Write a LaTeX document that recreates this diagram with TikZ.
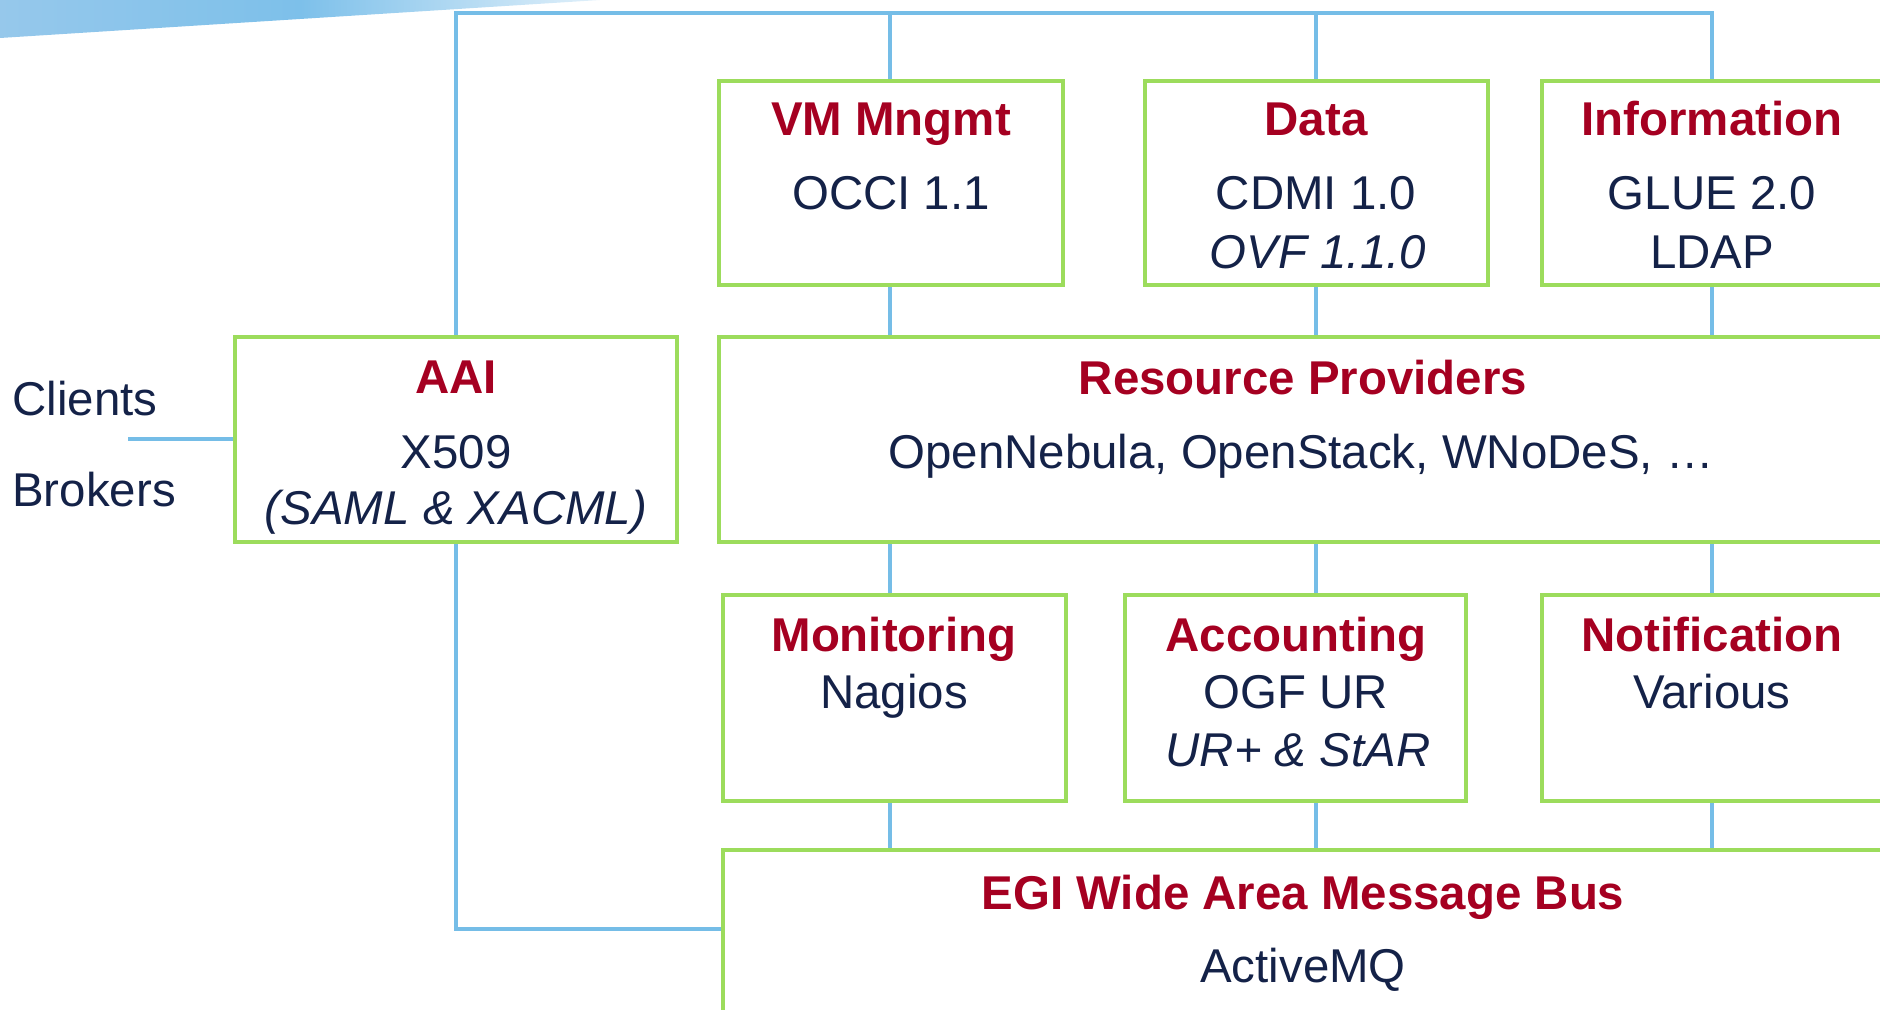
\documentclass[tikz,border=0pt]{standalone}
\usepackage{fontspec}
\setmainfont{Liberation Sans}
\usetikzlibrary{fit}
\definecolor{titlered}{RGB}{165,0,33}
\definecolor{bodynavy}{RGB}{20,34,72}
\definecolor{linkblue}{RGB}{117,189,231}
\definecolor{boxgreen}{RGB}{156,220,92}
\definecolor{swooshA}{RGB}{150,200,235}
\definecolor{swooshB}{RGB}{125,192,234}
\definecolor{swooshC}{RGB}{225,240,250}
\pgfdeclarelayer{background}
\pgfsetlayers{background,main}
\begin{document}
\begin{tikzpicture}[x=0.02cm,y=-0.02cm,
  box/.style={draw=boxgreen, line width=2.6pt, inner sep=0pt, outer sep=0pt, rectangle},
  link/.style={draw=linkblue, line width=2.8pt, line join=miter},
  ttl/.style={text=titlered, font=\fontsize{27}{32}\selectfont\bfseries, anchor=base, inner sep=0pt},
  body/.style={text=bodynavy, font=\fontsize{27}{32}\selectfont, anchor=base, inner sep=0pt},
  ital/.style={text=bodynavy, font=\fontsize{27}{32}\selectfont\itshape, anchor=base, inner sep=0pt}]
\useasboundingbox (0,0) rectangle (1880,1010);
\clip (0,0) rectangle (1880,1010);

% decorative swoosh
\shade[left color=swooshA, right color=swooshC, middle color=swooshB] (0,0) -- (600,0) -- (0,38) -- cycle;

% boxes
\node[box, fit={(235,337) (677,542)}] (aai) {};
\node[box, fit={(719,81) (1063,285)}] (vm) {};
\node[box, fit={(1145,81) (1488,285)}] (data) {};
\node[box, fit={(1542,81) (1900,285)}] (info) {};
\node[box, fit={(719,337) (1900,542)}] (rp) {};
\node[box, fit={(723,595) (1066,801)}] (mon) {};
\node[box, fit={(1125,595) (1466,801)}] (acc) {};
\node[box, fit={(1542,595) (1900,801)}] (notif) {};
\node[box, fit={(723,850) (1900,1040)}] (bus) {};

% coordinates
\coordinate (topline) at (456,13);
\coordinate (cl) at (128,439);
\coordinate (busin) at (723,929);
\coordinate (xvm) at (890,0);
\coordinate (xdata) at (1316,0);
\coordinate (xinfo) at (1712,0);

% connectors
\begin{pgfonlayer}{background}
\draw[link] (aai.north) |- (xinfo |- topline) -- (xinfo |- info.north);
\draw[link] (xvm |- topline) -- (xvm |- vm.north);
\draw[link] (xdata |- topline) -- (xdata |- data.north);
\draw[link] (xvm |- vm.south) -- (xvm |- rp.north);
\draw[link] (xdata |- data.south) -- (xdata |- rp.north);
\draw[link] (xinfo |- info.south) -- (xinfo |- rp.north);
\draw[link] (xvm |- rp.south) -- (xvm |- mon.north);
\draw[link] (xdata |- rp.south) -- (xdata |- acc.north);
\draw[link] (xinfo |- rp.south) -- (xinfo |- notif.north);
\draw[link] (xvm |- mon.south) -- (xvm |- bus.north);
\draw[link] (xdata |- acc.south) -- (xdata |- bus.north);
\draw[link] (xinfo |- notif.south) -- (xinfo |- bus.north);
\draw[link] (aai.south) |- (busin);
\draw[link] (cl) -- (aai.west |- cl);
\end{pgfonlayer}

% texts
\node[body, anchor=base west] (clients) at (12,415) {Clients};
\node[body, anchor=base west] (brokers) at (12,506) {Brokers};

\node[ttl] (aaiT) at (456,393) {AAI};
\node[body] (aaiB) at (456,468) {X509};
\node[ital] (aaiC) at (456,524) {(SAML \& XACML)};

\node[ttl] (vmT) at (891,136) {VM Mngmt};
\node[body] (vmB) at (891,210) {OCCI 1.1};

\node[ttl] (dataT) at (1316,136) {Data};
\node[body] (dataB) at (1316,210) {CDMI 1.0};
\node[ital] (dataC) at (1318,269) {OVF 1.1.0};

\node[ttl] (infoT) at (1712,136) {Information};
\node[body] (infoB) at (1712,210) {GLUE 2.0};
\node[body] (infoC) at (1712,269) {LDAP};

\node[ttl] (rpT) at (1303,394) {Resource Providers};
\node[body] (rpB) at (1301,468) {OpenNebula, OpenStack, WNoDeS, …};

\node[ttl] (monT) at (894,651) {Monitoring};
\node[body] (monB) at (894,708) {Nagios};

\node[ttl] (accT) at (1296,651) {Accounting};
\node[body] (accB) at (1296,708) {OGF UR};
\node[ital] (accC) at (1298,766) {UR+ \& StAR};

\node[ttl] (notT) at (1712,651) {Notification};
\node[body] (notB) at (1712,708) {Various};

\node[ttl] (busT) at (1303,909) {EGI Wide Area Message Bus};
\node[body] (busB) at (1303,982) {ActiveMQ};
\end{tikzpicture}
\end{document}
